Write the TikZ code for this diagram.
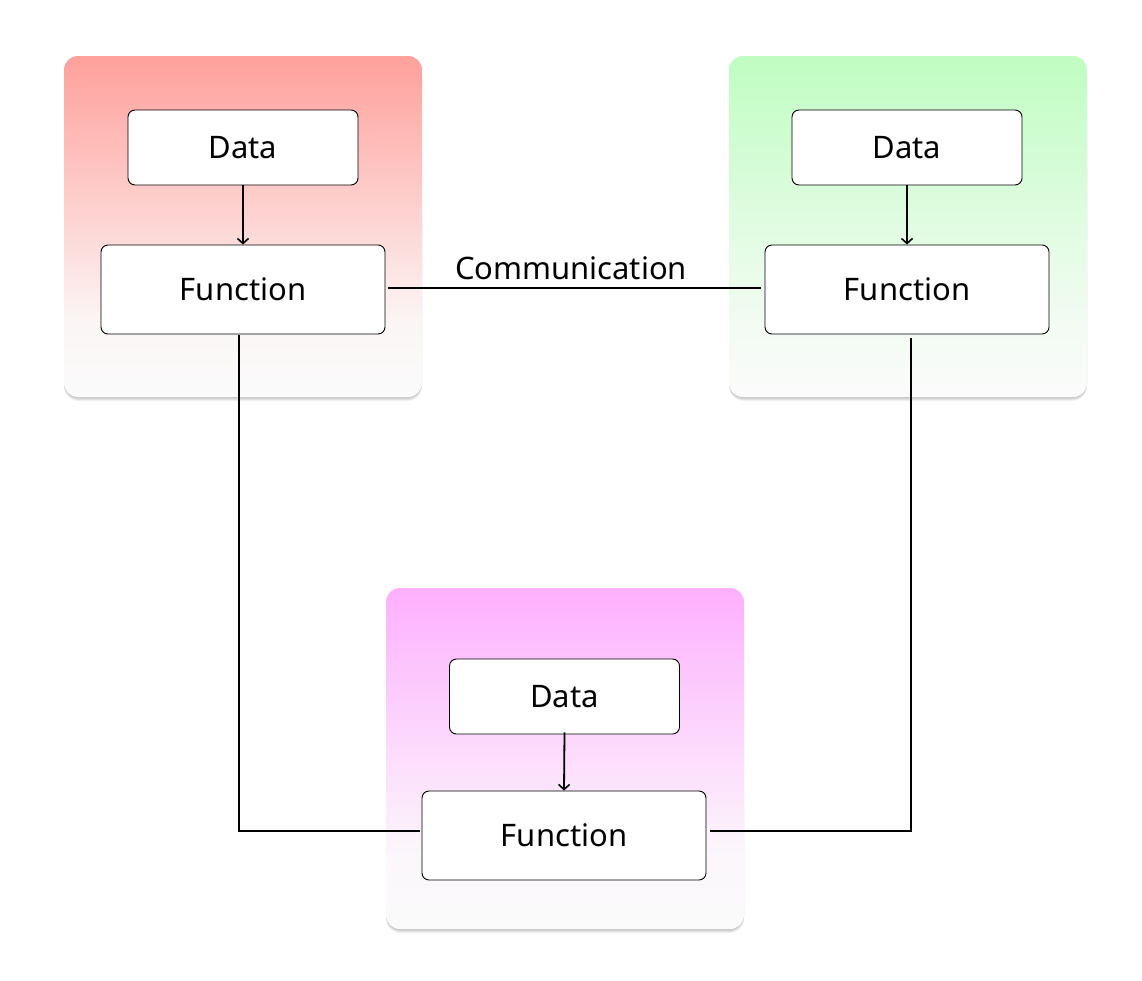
\documentclass[tikz,border=0pt]{standalone}
\usepackage{fontspec}
\setmainfont{Noto Sans}
\usetikzlibrary{arrows.meta}
\definecolor{redtop}{HTML}{FFA09B}
\definecolor{greentop}{HTML}{C0FDC2}
\definecolor{pinktop}{HTML}{FDB0FD}
\definecolor{grpbot}{HTML}{FBFBFB}
\colorlet{redlow}{redtop!6!grpbot}
\colorlet{greenlow}{greentop!14!grpbot}
\colorlet{pinklow}{pinktop!6!grpbot}
\pgfdeclareverticalshading{redgrad}{100bp}{color(0bp)=(grpbot); color(25bp)=(grpbot); color(36bp)=(redlow); color(75bp)=(redtop); color(100bp)=(redtop)}
\pgfdeclareverticalshading{greengrad}{100bp}{color(0bp)=(grpbot); color(25bp)=(grpbot); color(36bp)=(greenlow); color(75bp)=(greentop); color(100bp)=(greentop)}
\pgfdeclareverticalshading{pinkgrad}{100bp}{color(0bp)=(grpbot); color(25bp)=(grpbot); color(36bp)=(pinklow); color(75bp)=(pinktop); color(100bp)=(pinktop)}
\tikzset{
  grp/.style={rounded corners=14pt, draw=none},
  shad/.style={rounded corners=15pt, fill=black, opacity=0.06},
  box/.style={draw=black, line width=0.9pt, fill=white, rounded corners=7pt,
    font=\fontsize{31}{36}\selectfont, inner sep=0pt},
  databox/.style={box, minimum width=230pt, minimum height=75pt},
  funcbox/.style={box, minimum width=284pt, minimum height=89pt},
  conn/.style={draw=black, line width=1.8pt},
  arr/.style={conn, -{Straight Barb[length=5pt,width=11pt,line width=1.6pt]}},
  lbl/.style={font=\fontsize{31}{36}\selectfont, inner sep=0pt}
}
\begin{document}
\begin{tikzpicture}[x=1pt,y=-1pt]
\useasboundingbox (0,0) rectangle (1142,980);
\fill[white] (0,0) rectangle (1142,980);
% soft shadows
\foreach \d in {1,2,3,4} {
  \fill[shad] (64,{56+\d}) rectangle (422,{397+\d});
  \fill[shad] (729,{56+\d}) rectangle (1087,{397+\d});
  \fill[shad] (386,{588+\d}) rectangle (744,{929+\d});
}
% groups
\path[grp, shading=redgrad] (64,56) rectangle (422,397);
\path[grp, shading=greengrad] (729,56) rectangle (1087,397);
\path[grp, shading=pinkgrad] (386,588) rectangle (744,929);
% boxes
\node[databox] (dl) at (243,147.5) {Data};
\node[funcbox] (fl) at (243,289.5) {Function};
\node[databox] (dr) at (907,147.5) {Data};
\node[funcbox] (fr) at (907,289.5) {Function};
\node[databox] (db) at (564.5,696.5) {Data};
\node[funcbox] (fb) at (564,835.5) {Function};
% arrows
\draw[arr] (dl.south) -- (fl.north);
\draw[arr] (dr.south) -- (fr.north);
\draw[arr] ([yshift=2pt]db.south) -- (fb.north);
% communication
\draw[conn] ([xshift=3pt,yshift=1.5pt]fl.east) -- ([xshift=-4pt,yshift=1.5pt]fr.west);
\node[lbl] (comm) at (571,268) {Communication};
% links to bottom
\coordinate (cl) at (239,831);
\coordinate (cr) at (911,831);
\draw[conn] ([xshift=-4pt,yshift=-1pt]fl.south) |- ([xshift=-2pt]fb.west |- cl);
\draw[conn] ([xshift=4pt,yshift=-4pt]fr.south) |- ([xshift=4pt]fb.east |- cr);
\end{tikzpicture}
\end{document}
